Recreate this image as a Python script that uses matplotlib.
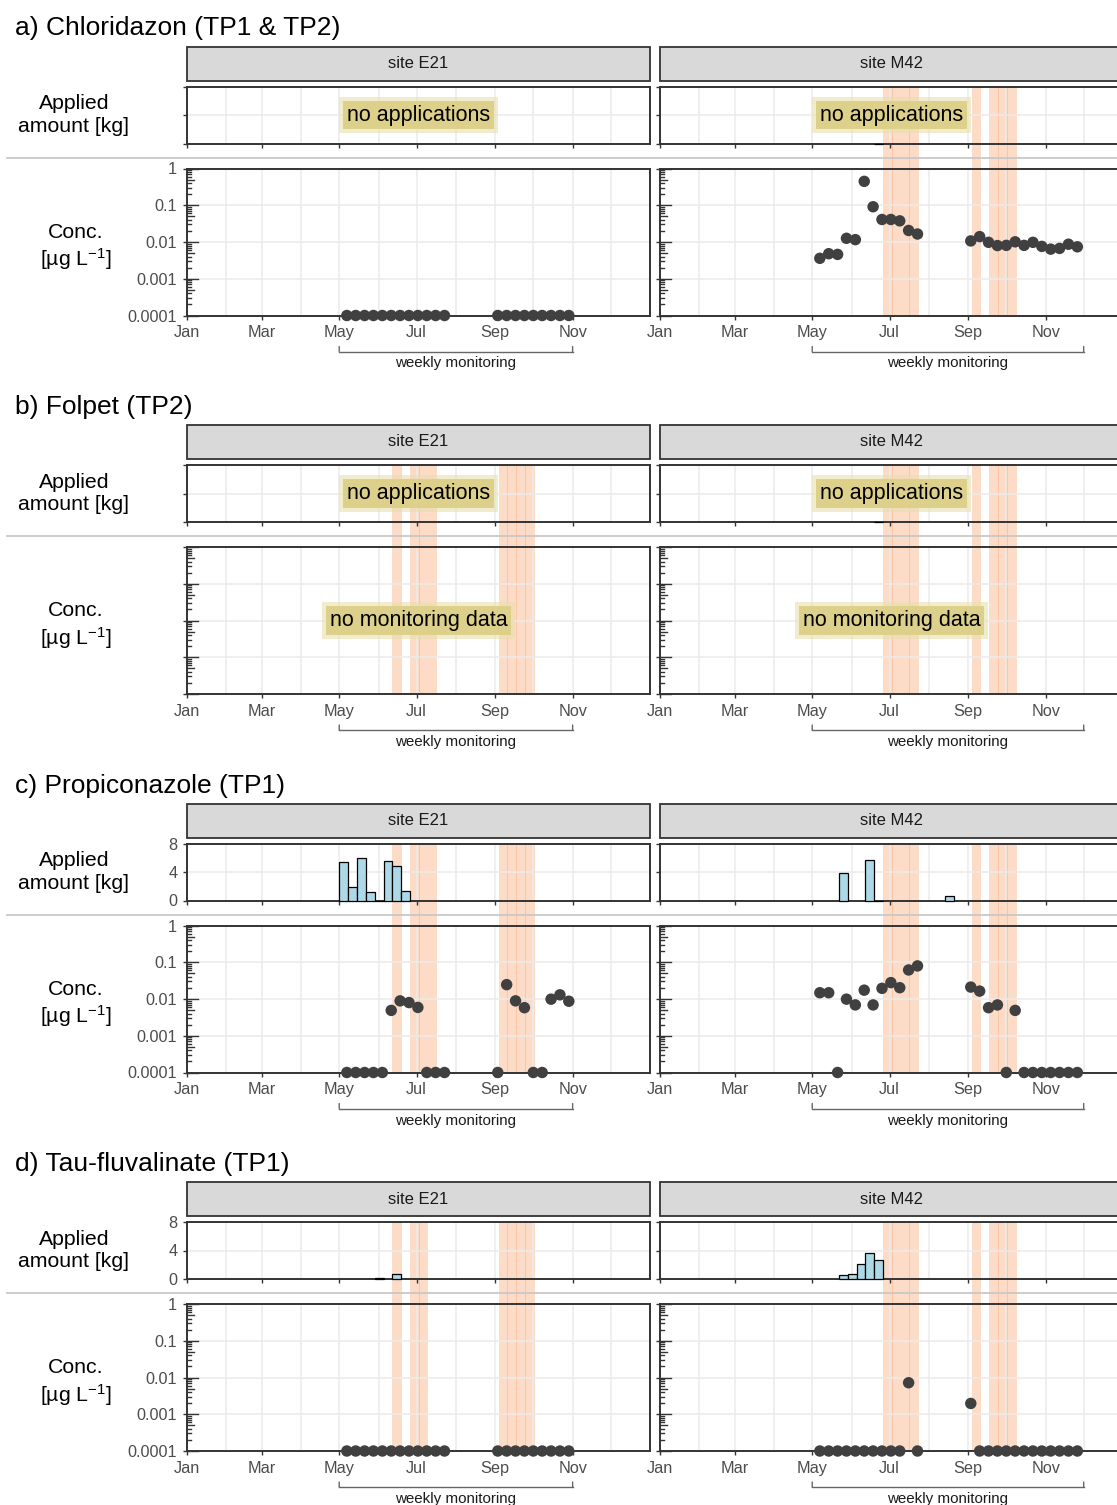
import matplotlib
matplotlib.use('Agg')
import matplotlib.pyplot as plt
import matplotlib.transforms as mtransforms
from matplotlib.patches import Rectangle
from matplotlib.lines import Line2D

plt.rcParams['font.family'] = ['Liberation Sans', 'DejaVu Sans']
plt.rcParams['mathtext.fontset'] = 'custom'
plt.rcParams['mathtext.rm'] = 'Liberation Sans'
plt.rcParams['mathtext.it'] = 'Liberation Sans:italic'
plt.rcParams['mathtext.bf'] = 'Liberation Sans:bold'

W, H = 1117, 1505

# ---------------- calendar (day of year) ----------------
month_labels = ['Jan', 'Mar', 'May', 'Jul', 'Sep', 'Nov']
month_label_days = [0, 59, 120, 181, 243, 304]
month_minor_days = [31, 90, 151, 212, 273, 334]
year_days = 365

sites = ['site E21', 'site M42']
panel_titles = ['a) Chloridazon (TP1 & TP2)', 'b) Folpet (TP2)',
                'c) Propiconazole (TP1)', 'd) Tau-fluvalinate (TP1)']

# ---------------- monitoring ----------------
ND = 0.0001  # below quantification, drawn on the lower axis limit
sample_days_E21 = [126, 133, 140, 147, 154, 161, 168, 175, 182, 189, 196, 203,
                   245, 252, 259, 266, 273, 280, 287, 294, 301]
sample_days_M42 = [126, 133, 140, 147, 154, 161, 168, 175, 182, 189, 196, 203,
                   245, 252, 259, 266, 273, 280, 287, 294, 301, 308, 315, 322, 329]
monitoring_E21 = [120, 304]
monitoring_M42 = [120, 334]

conc_a_E21 = [ND, ND, ND, ND, ND, ND, ND, ND, ND, ND, ND, ND,
              ND, ND, ND, ND, ND, ND, ND, ND, ND]
conc_a_M42 = [0.0036, 0.0048, 0.0046, 0.0126, 0.0116, 0.447, 0.091, 0.041, 0.041, 0.0376, 0.0206, 0.0165,
              0.0107, 0.014, 0.0098, 0.008, 0.0081, 0.0101, 0.0081, 0.0098, 0.0076, 0.0064, 0.0067, 0.0087, 0.0074]
conc_b_E21 = None
conc_b_M42 = None
conc_c_E21 = [ND, ND, ND, ND, ND, 0.0049, 0.0089, 0.008, 0.0059, ND, ND, ND,
              ND, 0.0246, 0.0089, 0.0058, ND, ND, 0.0099, 0.013, 0.0087]
conc_c_M42 = [0.0148, 0.0148, ND, 0.0099, 0.0069, 0.0174, 0.0069, 0.0195, 0.0279, 0.0203, 0.0617, 0.0795,
              0.0211, 0.0164, 0.0058, 0.0069, ND, 0.0049, ND, ND, ND, ND, ND, ND, ND]
conc_d_E21 = [ND, ND, ND, ND, ND, ND, ND, ND, ND, ND, ND, ND,
              ND, ND, ND, ND, ND, ND, ND, ND, ND]
conc_d_M42 = [ND, ND, ND, ND, ND, ND, ND, ND, ND, ND, 0.0072, ND,
              0.00197, ND, ND, ND, ND, ND, ND, ND, ND, ND, ND, ND, ND]

# ---------------- applications (weekly sums, week start day) ----------------
appl_weeks_a_E21, appl_kg_a_E21 = [], []
appl_weeks_a_M42, appl_kg_a_M42 = [169], [0.0]
appl_weeks_b_E21, appl_kg_b_E21 = [], []
appl_weeks_b_M42, appl_kg_b_M42 = [169], [0.0]
appl_weeks_c_E21 = [120, 127, 134, 141, 148, 155, 162, 169]
appl_kg_c_E21 = [5.4, 1.84, 5.93, 1.19, 0.0, 5.5, 4.9, 1.37]
appl_weeks_c_M42 = [141, 162, 169, 225]
appl_kg_c_M42 = [3.81, 5.65, 0.0, 0.66]
appl_weeks_d_E21 = [148, 162]
appl_kg_d_E21 = [0.14, 0.75]
appl_weeks_d_M42 = [141, 148, 155, 162, 169]
appl_kg_d_M42 = [0.5, 0.75, 2.1, 3.66, 2.7]

# ---------------- highlighted weeks (week start day) ----------------
band_weeks_a_E21 = []
band_weeks_a_M42 = [176, 183, 190, 197, 246, 260, 267, 274]
band_weeks_b_E21 = [162, 176, 183, 190, 246, 253, 260, 267]
band_weeks_b_M42 = [176, 183, 190, 197, 246, 260, 267, 274]
band_weeks_c_E21 = [162, 176, 183, 190, 246, 253, 260, 267]
band_weeks_c_M42 = [176, 183, 190, 197, 246, 260, 267, 274]
band_weeks_d_E21 = [162, 176, 183, 246, 253, 260, 267]
band_weeks_d_M42 = [176, 183, 190, 197, 246, 260, 267, 274]

panels = [
    dict(conc=[conc_a_E21, conc_a_M42],
         appl=[(appl_weeks_a_E21, appl_kg_a_E21), (appl_weeks_a_M42, appl_kg_a_M42)],
         bands=[band_weeks_a_E21, band_weeks_a_M42], no_appl=True, appl_labels=False, conc_labels=True),
    dict(conc=[conc_b_E21, conc_b_M42],
         appl=[(appl_weeks_b_E21, appl_kg_b_E21), (appl_weeks_b_M42, appl_kg_b_M42)],
         bands=[band_weeks_b_E21, band_weeks_b_M42], no_appl=True, appl_labels=False, conc_labels=False),
    dict(conc=[conc_c_E21, conc_c_M42],
         appl=[(appl_weeks_c_E21, appl_kg_c_E21), (appl_weeks_c_M42, appl_kg_c_M42)],
         bands=[band_weeks_c_E21, band_weeks_c_M42], no_appl=False, appl_labels=True, conc_labels=True),
    dict(conc=[conc_d_E21, conc_d_M42],
         appl=[(appl_weeks_d_E21, appl_kg_d_E21), (appl_weeks_d_M42, appl_kg_d_M42)],
         bands=[band_weeks_d_E21, band_weeks_d_M42], no_appl=False, appl_labels=True, conc_labels=True),
]
sample_days = [sample_days_E21, sample_days_M42]
monitoring = [monitoring_E21, monitoring_M42]

# ---------------- styling ----------------
C_GRID = '#EBEBEB'
C_BORDER = '#333333'
C_TICKLAB = '#4D4D4D'
C_POINT = '#404040'
C_BAR = '#ADD8E6'
C_BAND = '#F9A26C'
C_LABEL = '#DDD08A'

fig = plt.figure(figsize=(W / 100, H / 100), dpi=100)
fig.patch.set_facecolor('white')


def fx(px):
    return px / W


def fy(py):
    return 1 - py / H


col_left = [187, 660]
col_width = 463
period = 378.5
T0 = 86.5


def yellow_label(ax, text):
    ax.text(0.5, 0.5, text, transform=ax.transAxes, ha='center', va='center',
            fontsize=15.5, color='black', zorder=10,
            bbox=dict(boxstyle='square,pad=0.35', facecolor='#E9E0AE', edgecolor='none', alpha=0.6))
    ax.text(0.5, 0.5, text, transform=ax.transAxes, ha='center', va='center',
            fontsize=15.5, color='black', zorder=11,
            bbox=dict(boxstyle='square,pad=0.18', facecolor=C_LABEL, edgecolor='none'))


def style_axes(ax):
    ax.set_facecolor('none')
    for sp in ax.spines.values():
        sp.set_color(C_BORDER)
        sp.set_linewidth(1.4)
    ax.set_xlim(0, year_days)
    ax.set_xticks(month_label_days)
    ax.set_xticks(month_minor_days, minor=True)
    ax.grid(True, which='major', color=C_GRID, linewidth=1.1, zorder=0)
    ax.grid(True, which='minor', axis='x', color=C_GRID, linewidth=1.1, zorder=0)
    ax.set_axisbelow(True)
    ax.tick_params(which='major', direction='out', length=2.8, width=1.0, color=C_BORDER,
                   labelcolor=C_TICKLAB, labelsize=11.7, pad=4.2)
    ax.tick_params(which='minor', length=0)


for i, p in enumerate(panels):
    T = T0 + i * period
    # title
    fig.text(fx(15), fy(T - 58), panel_titles[i], ha='left', va='center', fontsize=19, color='black')
    # row labels
    fig.text(fx(74), fy(T + 28.5), 'Applied\namount [kg]', ha='center', va='center',
             fontsize=15.3, linespacing=1.25, color='black')
    fig.text(fx(76), fy(T + 161), 'Conc.\n[µg L$^{\\mathregular{-1}}$]', ha='center', va='center',
             fontsize=15.3, linespacing=1.25, color='black')
    # separator
    fig.add_artist(Line2D([fx(7), fx(W)], [fy(T + 71), fy(T + 71)], color='#C8C8C8',
                          linewidth=1.3, transform=fig.transFigure, zorder=2))
    for j in range(2):
        x0 = col_left[j]
        # strip
        fig.add_artist(Rectangle((fx(x0), fy(T - 6)), fx(col_width), 34 / H,
                                 transform=fig.transFigure, facecolor='#D9D9D9',
                                 edgecolor=C_BORDER, linewidth=1.3, zorder=1))
        fig.text(fx(x0 + col_width / 2), fy(T - 23), sites[j], ha='center', va='center',
                 fontsize=12, color='#1A1A1A', zorder=3)
        # background axes for highlighted weeks
        bg = fig.add_axes([fx(x0), fy(T + 229), fx(col_width), 229 / H], zorder=0)
        bg.set_xlim(0, year_days)
        bg.set_ylim(0, 1)
        bg.axis('off')
        for wk in p['bands'][j]:
            bg.axvspan(wk - 0.35, wk + 7.35, color=C_BAND, alpha=0.38, linewidth=0)

        # applied axes
        aa = fig.add_axes([fx(x0), fy(T + 57), fx(col_width), 57 / H], zorder=1)
        style_axes(aa)
        aa.set_ylim(0, 8)
        aa.set_yticks([0, 4, 8])
        aa.set_xticklabels([])
        if not (p['appl_labels'] and j == 0):
            aa.set_yticklabels([])
        weeks, kg = p['appl'][j]
        if len(weeks):
            aa.bar(weeks, kg, width=7, align='edge', color=C_BAR, edgecolor='black',
                   linewidth=0.9, zorder=3, clip_on=False)
        if p['no_appl']:
            yellow_label(aa, 'no applications')

        # concentration axes
        ca = fig.add_axes([fx(x0), fy(T + 229), fx(col_width), 147 / H], zorder=1)
        style_axes(ca)
        ca.set_yscale('log')
        ca.set_ylim(1e-4, 1)
        ca.set_yticks([1e-4, 1e-3, 1e-2, 1e-1, 1])
        ca.yaxis.set_minor_locator(matplotlib.ticker.NullLocator())
        if j == 0 and p['conc_labels']:
            ca.set_yticklabels(['0.0001', '0.001', '0.01', '0.1', '1'])
        else:
            ca.set_yticklabels([])
        ca.set_xticklabels(month_labels)
        ca.tick_params(axis='y', pad=4.5)
        # log ticks inside the panel
        tr = mtransforms.blended_transform_factory(ca.transAxes, ca.transData)
        for dec in [1e-4, 1e-3, 1e-2, 1e-1]:
            for m in range(1, 10):
                L = 11 if m == 1 else (7.4 if m == 5 else 3.7)
                ca.plot([0, L / col_width], [m * dec, m * dec], transform=tr, color=C_BORDER,
                        linewidth=1.0, clip_on=False, zorder=4)
        ca.plot([0, 11 / col_width], [1, 1], transform=tr, color=C_BORDER, linewidth=1.0,
                clip_on=False, zorder=4)

        vals = p['conc'][j]
        if vals is None:
            yellow_label(ca, 'no monitoring data')
        else:
            ca.scatter(sample_days[j], vals, s=68, color=C_POINT, edgecolors='none',
                       clip_on=False, zorder=6)

        # weekly monitoring bracket
        m0, m1 = monitoring[j]
        base = mtransforms.blended_transform_factory(ca.transData, ca.transAxes)
        trb = mtransforms.offset_copy(base, fig=fig, x=0, y=-36, units='dots')
        trb2 = mtransforms.offset_copy(base, fig=fig, x=0, y=-31, units='dots')
        trt = mtransforms.offset_copy(base, fig=fig, x=0, y=-48, units='dots')
        ca.plot([m0, m1], [0, 0], transform=trb, color='#666666', linewidth=1.0, clip_on=False)
        for mx in (m0, m1):
            ca.annotate('', xy=(mx, 0), xycoords=trb, xytext=(mx, 0), textcoords=trb2,
                        arrowprops=dict(arrowstyle='-', color='#666666', linewidth=1.0,
                                        shrinkA=0, shrinkB=0))
        ca.text((m0 + m1) / 2, 0, 'weekly monitoring', transform=trt, ha='center', va='center',
                fontsize=10.9, color='#1A1A1A')

fig.savefig('out.png', dpi=100, facecolor='white')
